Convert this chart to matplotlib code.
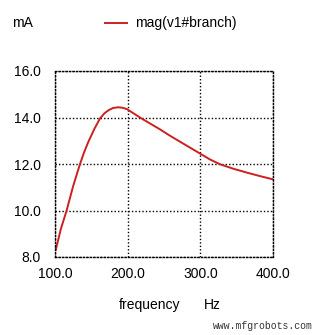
import matplotlib
matplotlib.use('Agg')
import matplotlib.pyplot as plt

# values
freq = [101, 108, 116, 125, 134, 140, 146, 154, 162, 168, 174, 180, 187, 193, 199,
        208, 219, 232, 245, 258, 272, 285, 299, 313, 327, 345, 364, 382, 400]
mag = [8.3, 9.2, 10.0, 11.05, 11.96, 12.5, 12.96, 13.5, 13.96, 14.18, 14.32, 14.41, 14.44, 14.42, 14.36,
       14.18, 13.96, 13.72, 13.48, 13.22, 12.96, 12.72, 12.46, 12.2, 11.99, 11.8, 11.63, 11.48, 11.34]
xticks = [100, 200, 300, 400]
yticks = [8, 10, 12, 14, 16]

plt.rcParams['font.family'] = ['Liberation Sans', 'DejaVu Sans']

W, H = 334, 335
fig = plt.figure(figsize=(W / 100, H / 100), dpi=100, facecolor='white')
ax = fig.add_axes([55 / W, 1 - 257 / H, 218 / W, 186 / H])

line, = ax.plot(freq, mag, color='#cc2020', lw=1.4)

ax.set_xlim(100, 400)
ax.set_ylim(8, 16)
ax.set_xticks(xticks)
ax.set_yticks(yticks)
ax.set_xticklabels(['%.1f' % v for v in xticks])
ax.set_yticklabels(['%.1f' % v for v in yticks])
ax.tick_params(length=0, labelsize=10, colors='black')
ax.tick_params(axis='y', pad=10)
ax.tick_params(axis='x', pad=7)
ax.grid(True, color='black', linestyle=(0, (1, 1.5)), linewidth=1.0)
for s in ax.spines.values():
    s.set_linestyle((0, (1, 1.5)))
    s.set_linewidth(1.0)

# top labels and legend
fig.text(12 / W, 1 - 23 / H, 'mA', fontsize=10, va='center')
fig.lines.append(plt.Line2D([105 / W, 127 / W], [1 - 23 / H, 1 - 23 / H],
                            transform=fig.transFigure, color='#cc2020', lw=1.4))
fig.text(135 / W, 1 - 23 / H, 'mag(v1#branch)', fontsize=10, va='center')

# axis labels
fig.text(119 / W, 1 - 305 / H, 'frequency', fontsize=10, va='center')
fig.text(204 / W, 1 - 305 / H, 'Hz', fontsize=10, va='center')

fig.text(213 / W, 1 - 326 / H, 'www.mfgrobots.com', fontsize=7,
         family='Liberation Mono', color='#333333', va='center')

fig.savefig('out.png', dpi=100, facecolor='white')
